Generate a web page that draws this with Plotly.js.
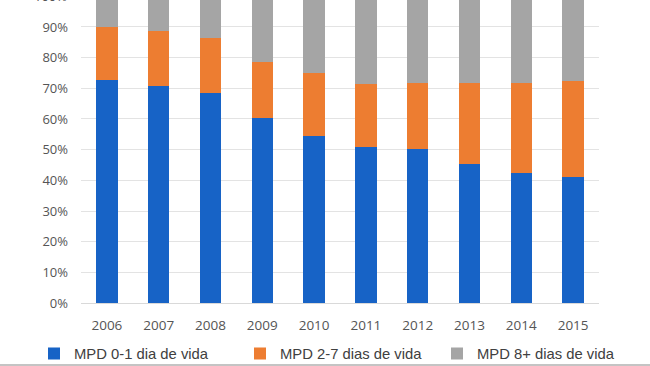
<!DOCTYPE html>
<html>
<head>
<meta charset="utf-8">
<script src="https://cdn.plot.ly/plotly-3.0.1.min.js"></script>
<style>html,body{margin:0;padding:0;background:#fff;}#chart{width:650px;height:366px;}</style>
</head>
<body>
<div id="chart"></div>
<script>
const years = ["2006","2007","2008","2009","2010","2011","2012","2013","2014","2015"];
const mpd01 = [0.727, 0.709, 0.686, 0.602, 0.546, 0.508, 0.503, 0.452, 0.425, 0.412];
const mpd27 = [0.174, 0.178, 0.177, 0.185, 0.203, 0.206, 0.213, 0.266, 0.293, 0.311];
const mpd8p = [0.099, 0.113, 0.137, 0.213, 0.251, 0.286, 0.284, 0.282, 0.282, 0.277];
const names = ["MPD 0-1 dia de vida", "MPD 2-7 dias de vida", "MPD 8+ dias de vida"];
const colors = ["#1763C6", "#ED7D31", "#A5A5A5"];

const series = [mpd01, mpd27, mpd8p];
const legendIds = ["legend", "legend2", "legend3"];
const legendX = [34, 240, 437];
const traces = series.map((vals, i) => ({
  type: "bar",
  x: years,
  y: vals,
  name: names[i],
  legend: legendIds[i],
  marker: {color: colors[i]},
  hoverinfo: "skip"
}));

function legendCfg(px) {
  return {
    orientation: "h",
    x: px / 650, xref: "container", xanchor: "left",
    y: 0.033, yref: "container", yanchor: "middle",
    borderwidth: 0,
    font: {family: "Liberation Sans, Arial, sans-serif", size: 14.8, color: "#404040"},
    bgcolor: "rgba(0,0,0,0)"
  };
}

const layout = {
  width: 650, height: 366,
  margin: {l: 81, r: 51, t: 0, b: 63},
  barmode: "stack",
  bargap: 0.585,
  paper_bgcolor: "#ffffff",
  plot_bgcolor: "#ffffff",
  font: {family: "Open Sans, sans-serif", color: "#595959", size: 13},
  xaxis: {
    type: "category",
    showgrid: false,
    showline: false,
    zeroline: false,
    ticks: "",
    ticklabelstandoff: 12,
    tickfont: {family: "Open Sans, sans-serif", size: 13.5, color: "#555555"}
  },
  yaxis: {
    range: [0, 0.988],
    dtick: 0.1,
    tickformat: ".0%",
    showgrid: true,
    gridcolor: "#e3e3e3",
    gridwidth: 1,
    zeroline: true,
    zerolinecolor: "#d9d9d9",
    showline: false,
    ticks: "",
    ticklabelstandoff: 12,
    tickfont: {family: "Open Sans, sans-serif", size: 13, color: "#555555"}
  },
  showlegend: true,
  legend: legendCfg(legendX[0]),
  legend2: legendCfg(legendX[1]),
  legend3: legendCfg(legendX[2]),
  annotations: [{
    text: "100%",
    xref: "paper", yref: "paper",
    x: 0, y: 1.0 / 0.988,
    xanchor: "right", yanchor: "middle",
    xshift: -12,
    showarrow: false,
    font: {family: "Open Sans, sans-serif", size: 13, color: "#555555"}
  }],
  shapes: [{
    type: "line", xref: "paper", yref: "paper",
    x0: -0.2, x1: 1.2, y0: -62/303, y1: -62/303,
    line: {color: "#c4c4c4", width: 2}
  }]
};

Plotly.newPlot("chart", traces, layout, {staticPlot: true, displayModeBar: false});
</script>
</body>
</html>
